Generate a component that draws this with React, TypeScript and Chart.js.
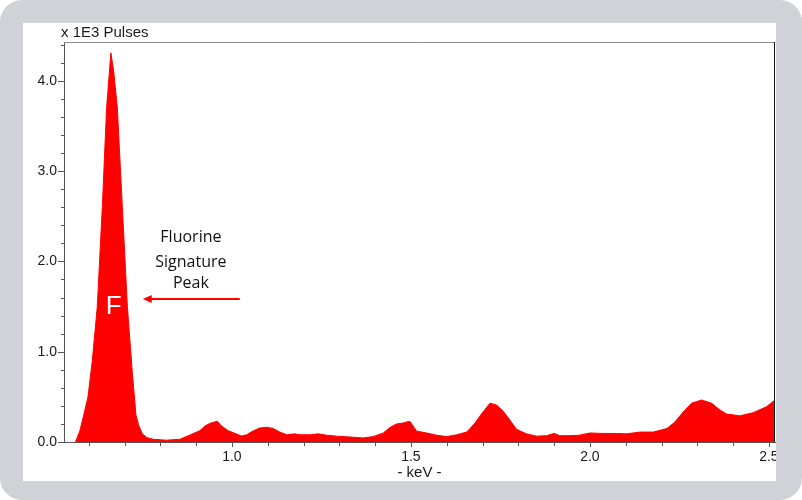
import React, { useEffect, useRef } from "react";
import { Chart, registerables } from "chart.js";

Chart.register(...registerables);

// Energy (keV) and counts (x 1E3 pulses)
const energyKeV = [
  0.563, 0.575, 0.585, 0.598, 0.61, 0.624, 0.638, 0.65, 0.662, 0.67, 0.68, 0.694, 0.708, 0.722,
  0.732, 0.74, 0.75, 0.762, 0.78, 0.817, 0.855, 0.883, 0.91, 0.925, 0.939, 0.959, 0.971, 0.99,
  1.008, 1.027, 1.041, 1.06, 1.078, 1.097, 1.115, 1.134, 1.153, 1.176, 1.19, 1.218, 1.241, 1.265,
  1.292, 1.33, 1.367, 1.395, 1.423, 1.441, 1.46, 1.478, 1.497, 1.516, 1.544, 1.572, 1.6, 1.628,
  1.656, 1.679, 1.697, 1.721, 1.739, 1.758, 1.777, 1.795, 1.823, 1.851, 1.879, 1.9, 1.916, 1.944,
  1.97, 2.0, 2.037, 2.074, 2.102, 2.14, 2.177, 2.215, 2.237, 2.26, 2.284, 2.312, 2.34, 2.363,
  2.382, 2.419, 2.456, 2.493, 2.517,
];
const pulses = [
  0, 0.12, 0.28, 0.5, 0.9, 1.5, 2.6, 3.7, 4.31, 4.1, 3.7, 2.6, 1.5, 0.76,
  0.3, 0.18, 0.09, 0.05, 0.03, 0.02, 0.03, 0.078, 0.125, 0.177, 0.207, 0.23, 0.177, 0.125,
  0.096, 0.066, 0.08, 0.125, 0.155, 0.163, 0.15, 0.11, 0.08, 0.09, 0.08, 0.08, 0.09, 0.075,
  0.065, 0.055, 0.045, 0.06, 0.1, 0.16, 0.2, 0.21, 0.23, 0.12, 0.1, 0.075, 0.06, 0.08,
  0.11, 0.21, 0.31, 0.43, 0.41, 0.34, 0.24, 0.14, 0.09, 0.065, 0.07, 0.095, 0.07, 0.07,
  0.075, 0.1, 0.095, 0.095, 0.09, 0.11, 0.11, 0.15, 0.22, 0.33, 0.43, 0.465, 0.43, 0.355,
  0.31, 0.29, 0.325, 0.39, 0.465,
];

const xMin = 0.531;
const xMax = 2.517;
const yMin = 0;
const yMax = 4.43;
const xTickValues = [
  0.6, 0.7, 0.8, 0.9, 1.0, 1.1, 1.2, 1.3, 1.4, 1.5, 1.6, 1.7, 1.8, 1.9, 2.0, 2.1, 2.2, 2.3, 2.4, 2.5,
];
const yTickValues = [
  0, 0.2, 0.4, 0.6, 0.8, 1.0, 1.2, 1.4, 1.6, 1.8, 2.0, 2.2, 2.4, 2.6, 2.8, 3.0, 3.2, 3.4, 3.6, 3.8,
  4.0, 4.2, 4.4,
];
const yTitle = "x 1E3 Pulses";
const xTitle = "- keV -";
const noteLines = ["Fluorine", "Signature", "Peak"];
const peakLetter = "F";

const isMultiple = (v: number, step: number) => Math.abs(v / step - Math.round(v / step)) < 1e-6;

const overlayPlugin = {
  id: "overlay",
  afterDraw(chart: any) {
    const { ctx, chartArea } = chart;
    const xs = chart.scales.x;
    const ys = chart.scales.y;
    const { left, right, top, bottom } = chartArea;
    ctx.save();
    // frame top & right
    ctx.lineWidth = 1;
    ctx.strokeStyle = "#8a8a8a";
    ctx.beginPath();
    ctx.moveTo(left, top + 0.5);
    ctx.lineTo(right, top + 0.5);
    ctx.stroke();
    ctx.strokeStyle = "#111";
    ctx.beginPath();
    ctx.moveTo(right - 0.5, top);
    ctx.lineTo(right - 0.5, bottom);
    ctx.stroke();
    // y ticks
    ctx.strokeStyle = "#555";
    yTickValues.forEach((v) => {
      const py = Math.round(ys.getPixelForValue(v)) + 0.5;
      const len = isMultiple(v, 1) ? 6 : 3;
      ctx.beginPath();
      ctx.moveTo(left - len, py);
      ctx.lineTo(left, py);
      ctx.stroke();
    });
    // x ticks
    xTickValues.forEach((v) => {
      const px = Math.round(xs.getPixelForValue(v)) + 0.5;
      const len = isMultiple(v, 0.5) ? 5 : 4;
      ctx.beginPath();
      ctx.moveTo(px, bottom);
      ctx.lineTo(px, bottom + len);
      ctx.stroke();
    });
    // titles
    ctx.fillStyle = "#1a1a1a";
    ctx.font = "15px 'Liberation Sans', Arial, sans-serif";
    ctx.textBaseline = "middle";
    ctx.textAlign = "left";
    ctx.fillText(yTitle, left - 3, top - 9);
    ctx.textAlign = "center";
    ctx.fillText(xTitle, (left + right) / 2, bottom + 31);
    // annotation text
    ctx.font = "16px 'Open Sans', 'Noto Sans', sans-serif";
    ctx.fillStyle = "#111";
    const tx = xs.getPixelForValue(0.8855);
    const lineVals = [2.26, 1.99, 1.76];
    noteLines.forEach((t, i) => ctx.fillText(t, tx, ys.getPixelForValue(lineVals[i])));
    // arrow
    const ay = ys.getPixelForValue(1.585);
    const ax1 = xs.getPixelForValue(1.022);
    const ax0 = xs.getPixelForValue(0.751);
    ctx.strokeStyle = "#ff0000";
    ctx.fillStyle = "#ff0000";
    ctx.lineWidth = 2;
    ctx.beginPath();
    ctx.moveTo(ax1, ay);
    ctx.lineTo(ax0 + 6, ay);
    ctx.stroke();
    ctx.beginPath();
    ctx.moveTo(ax0, ay);
    ctx.lineTo(ax0 + 9, ay - 4);
    ctx.lineTo(ax0 + 9, ay + 4);
    ctx.closePath();
    ctx.fill();
    // F letter
    ctx.fillStyle = "#ffffff";
    ctx.font = "26px 'Liberation Sans', Arial, sans-serif";
    ctx.fillText(peakLetter, xs.getPixelForValue(0.67), ys.getPixelForValue(1.5));
    ctx.restore();
  },
};

const tickFont = { family: "'Liberation Sans', Arial, sans-serif", size: 14 };

function App() {
  const ref = useRef<HTMLCanvasElement | null>(null);
  useEffect(() => {
    if (!ref.current) return;
    const chart = new Chart(ref.current, {
      type: "line",
      data: {
        datasets: [
          {
            data: energyKeV.map((k, i) => ({ x: k, y: pulses[i] })),
            fill: "origin",
            backgroundColor: "#ff0000",
            borderColor: "#ff0000",
            borderWidth: 1,
            pointRadius: 0,
            tension: 0,
          },
        ],
      },
      options: {
        animation: false,
        responsive: false,
        devicePixelRatio: 1,
        layout: { padding: { top: 19, right: 1, left: 0, bottom: 0 } },
        plugins: { legend: { display: false }, tooltip: { enabled: false } },
        scales: {
          x: {
            type: "linear",
            min: xMin,
            max: xMax,
            grid: { display: false, drawTicks: false },
            border: { display: true, color: "#555", width: 1 },
            afterBuildTicks: (s: any) => {
              s.ticks = xTickValues.map((v) => ({ value: v }));
            },
            ticks: {
              autoSkip: false,
              maxRotation: 0,
              padding: 7,
              color: "#1a1a1a",
              font: tickFont,
              callback: (v: any) => {
                const n = Number(v);
                return isMultiple(n, 0.5) ? n.toFixed(1) : "";
              },
            },
            afterFit: (s: any) => {
              s.height = 39;
              s.paddingLeft = 0;
              s.paddingRight = 0;
            },
          },
          y: {
            type: "linear",
            min: yMin,
            max: yMax,
            grid: { display: false, drawTicks: false },
            border: { display: true, color: "#555", width: 1 },
            afterBuildTicks: (s: any) => {
              s.ticks = yTickValues.map((v) => ({ value: v }));
            },
            ticks: {
              autoSkip: false,
              padding: 7,
              color: "#1a1a1a",
              font: tickFont,
              callback: (v: any) => {
                const n = Number(v);
                return isMultiple(n, 1) ? n.toFixed(1) : "";
              },
            },
            afterFit: (s: any) => {
              s.width = 41;
              s.paddingTop = 0;
              s.paddingBottom = 0;
            },
          },
        },
      },
      plugins: [overlayPlugin],
    });
    return () => chart.destroy();
  }, []);

  return (
    <div
      style={{
        position: "fixed",
        left: 0,
        top: 0,
        width: 802,
        height: 500,
        background: "#ffffff",
      }}
    >
      <div
        style={{
          position: "absolute",
          left: 0,
          top: 0,
          width: 802,
          height: 500,
          background: "#d1d2d7",
          borderRadius: 22,
        }}
      />
      <div
        style={{
          position: "absolute",
          left: 23,
          top: 23,
          width: 753,
          height: 458,
          background: "#ffffff",
          overflow: "hidden",
        }}
      >
        <canvas ref={ref} width={753} height={458} style={{ display: "block" }} />
      </div>
    </div>
  );
}

export default App;
